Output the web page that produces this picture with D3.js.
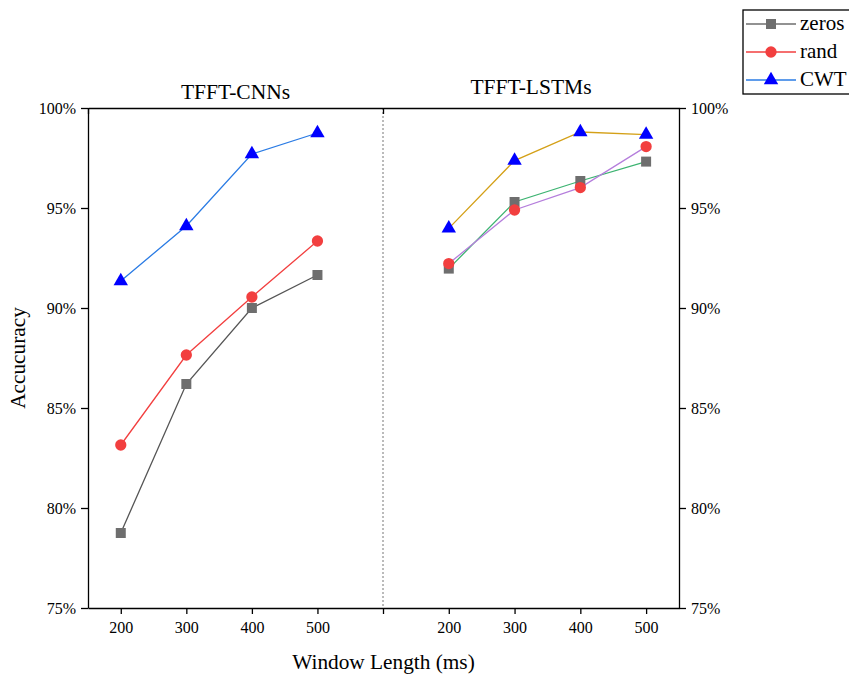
<!DOCTYPE html>
<html>
<head>
<meta charset="utf-8">
<script src="https://cdn.jsdelivr.net/npm/d3@7"></script>
<style>
  body { margin: 0; background: #fff; }
  svg, svg text { font-family: "Liberation Serif", "DejaVu Serif", serif; }
</style>
</head>
<body>
<svg id="drawing_region"></svg>
<script>
// window lengths (ms)
const windows = [200, 300, 400, 500];

// TFFT-CNNs accuracy (%)
const cnnZeros = [78.75, 86.2, 90.0, 91.65];
const cnnRand  = [83.15, 87.65, 90.55, 93.35];
const cnnCWT   = [91.35, 94.1, 97.7, 98.75];

// TFFT-LSTMs accuracy (%)
const lstmZeros = [91.97, 95.3, 96.35, 97.32];
const lstmRand  = [92.22, 94.9, 96.02, 98.07];
const lstmCWT   = [93.98, 97.37, 98.8, 98.67];

const yTicks = [75, 80, 85, 90, 95, 100];
const seriesNames = ['zeros', 'rand', 'CWT'];

const config = {
    width: 849,
    height: 674,
    left: 88, mid: 383, right: 679,
    top: 108, bottom: 608
};

const markerColor = { zeros: '#6e6e6e', rand: '#f23f3f', CWT: '#0000ff' };
const markerType = { zeros: d3.symbolSquare, rand: d3.symbolCircle, CWT: d3.symbolTriangle };
const markerSize = { zeros: 100, rand: 100, CWT: 90 };

const svg = d3.select('#drawing_region')
    .attr('width', config.width)
    .attr('height', config.height);

const yscale = d3.scaleLinear().domain([75, 100]).range([config.bottom, config.top]);
const xLeft = d3.scaleLinear().domain([150, 600]).range([config.left, config.mid]);
const xRight = d3.scaleLinear().domain([100, 550]).range([config.mid, config.right]);

// divider
svg.append('line')
    .attr('x1', config.mid).attr('x2', config.mid)
    .attr('y1', config.top).attr('y2', config.bottom)
    .attr('stroke', '#777').attr('stroke-width', 1)
    .attr('stroke-dasharray', '2,2');

function styleAxis(g) {
    g.attr('font-family', null).attr('font-size', null);
    g.selectAll('path, line').attr('stroke', '#000').attr('stroke-width', 1.3);
    g.selectAll('text')
        .style('font-size', '16px')
        .style('font-family', '"Liberation Serif", serif')
        .attr('fill', '#000');
}

// bottom axes
svg.append('g')
    .attr('transform', `translate(0,${config.bottom})`)
    .call(d3.axisBottom(xLeft).tickValues([200, 300, 400, 500, 600])
        .tickFormat(d => d === 600 ? '' : d).tickSize(6).tickSizeOuter(0).tickPadding(8))
    .call(styleAxis);
svg.append('g')
    .attr('transform', `translate(0,${config.bottom})`)
    .call(d3.axisBottom(xRight).tickValues(windows).tickSize(6).tickSizeOuter(0).tickPadding(8))
    .call(styleAxis);

// top border with inner ticks at panel edges
svg.append('g')
    .attr('transform', `translate(0,${config.top})`)
    .call(d3.axisTop(xLeft).tickValues([150, 600]).tickFormat('').tickSize(-6).tickSizeOuter(0))
    .call(styleAxis);
svg.append('g')
    .attr('transform', `translate(0,${config.top})`)
    .call(d3.axisTop(xRight).tickValues([]).tickSizeOuter(0))
    .call(styleAxis);

// y axes
svg.append('g')
    .attr('transform', `translate(${config.left},0)`)
    .call(d3.axisLeft(yscale).tickValues(yTicks).tickFormat(d => d + '%')
        .tickSize(7).tickSizeOuter(0).tickPadding(5))
    .call(styleAxis);
svg.append('g')
    .attr('transform', `translate(${config.right},0)`)
    .call(d3.axisRight(yscale).tickValues(yTicks).tickFormat(d => d + '%')
        .tickSize(7).tickSizeOuter(0).tickPadding(5))
    .call(styleAxis);

// series
const panels = [
    { x: xLeft, data: { zeros: cnnZeros, rand: cnnRand, CWT: cnnCWT },
      lines: { zeros: '#555555', rand: '#f23f3f', CWT: '#2a7be4' } },
    { x: xRight, data: { zeros: lstmZeros, rand: lstmRand, CWT: lstmCWT },
      lines: { zeros: '#3cb371', rand: '#b57edc', CWT: '#d4a017' } }
];

panels.forEach(p => {
    seriesNames.forEach(name => {
        const pts = windows.map((w, i) => [w, p.data[name][i]]);
        const line = d3.line().x(d => p.x(d[0])).y(d => yscale(d[1]));
        svg.append('path')
            .datum(pts)
            .attr('d', line)
            .attr('fill', 'none')
            .attr('stroke', p.lines[name])
            .attr('stroke-width', 1.3);
    });
    seriesNames.forEach(name => {
        const pts = windows.map((w, i) => [w, p.data[name][i]]);
        svg.selectAll(null)
            .data(pts)
            .enter()
            .append('path')
            .attr('d', d3.symbol().type(markerType[name]).size(markerSize[name]))
            .attr('transform', d => `translate(${p.x(d[0])},${yscale(d[1])})`)
            .attr('fill', markerColor[name]);
    });
});

// panel titles
svg.append('text').attr('x', (config.left + config.mid) / 2).attr('y', 99)
    .attr('text-anchor', 'middle').attr('font-size', 21.5).text('TFFT-CNNs');
svg.append('text').attr('x', (config.mid + config.right) / 2).attr('y', 94)
    .attr('text-anchor', 'middle').attr('font-size', 21.5).text('TFFT-LSTMs');

// axis titles
svg.append('text').attr('x', (config.left + config.right) / 2).attr('y', 669)
    .attr('text-anchor', 'middle').attr('font-size', 21.3).text('Window Length (ms)');
svg.append('text')
    .attr('transform', `translate(25,${(config.top + config.bottom) / 2}) rotate(-90)`)
    .attr('text-anchor', 'middle').attr('font-size', 21.3).text('Accucuracy');

// legend
const legend = svg.append('g').attr('transform', 'translate(743,10)');
legend.append('rect')
    .attr('x', 0).attr('y', 0).attr('width', 110).attr('height', 84)
    .attr('fill', '#fff').attr('stroke', '#000').attr('stroke-width', 1.3);
const legendLine = { zeros: '#6e6e6e', rand: '#f23f3f', CWT: '#2a7be4' };
seriesNames.forEach((name, i) => {
    const y = 14 + i * 28;
    legend.append('line').attr('x1', 3).attr('x2', 53).attr('y1', y).attr('y2', y)
        .attr('stroke', legendLine[name]).attr('stroke-width', 1.3);
    legend.append('path')
        .attr('d', d3.symbol().type(markerType[name]).size(markerSize[name]))
        .attr('transform', `translate(28,${y})`)
        .attr('fill', markerColor[name]);
    legend.append('text').attr('x', 57).attr('y', y + 6)
        .attr('font-size', 21).text(name);
});
</script>
</body>
</html>
